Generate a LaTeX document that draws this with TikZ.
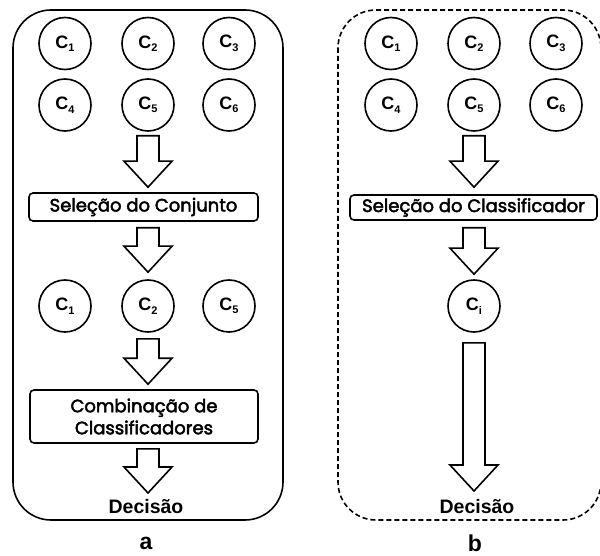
\documentclass[tikz,border=0pt]{standalone}
\usepackage{fontspec}
\setmainfont{Liberation Sans}
\newfontfamily\gothic{Poppins}
\usetikzlibrary{calc}
\newcommand\csub[2]{#1\raisebox{-3.5pt}{\fontsize{11}{11}\selectfont #2}}
\newcommand\medw[1]{\special{pdf:literal direct 2 Tr 0.45 w}#1\special{pdf:literal direct 0 Tr}}
\newcommand\barr[2]{\path[barrow] let \p1=(#1), \p2=(#2) in
  (\x1-11pt,\y1) -- (\x1+11pt,\y1) -- (\x1+11pt,\y2+26pt) -- (\x1+24pt,\y2+26pt)
  -- (\x1,\y2) -- (\x1-24pt,\y2+26pt) -- (\x1-11pt,\y2+26pt) -- cycle;}
\begin{document}
\begin{tikzpicture}[x=1pt,y=-1pt,
  cls/.style={circle,draw,line width=1.6pt,minimum size=52pt,inner sep=0pt,
    font=\fontsize{18}{18}\selectfont\bfseries},
  box/.style={draw,rounded corners=4pt,line width=1.6pt,inner sep=0pt,align=center,
    font=\gothic\fontsize{18}{22}\selectfont},
  barrow/.style={draw,line width=1.6pt,fill=white,line join=miter},
  frame/.style={line width=1.6pt,rounded corners=38pt},
  lbl/.style={inner sep=0pt,font=\fontsize{19.5}{20}\selectfont\bfseries},
  sublabel/.style={inner sep=0pt,anchor=base,font=\fontsize{23}{23}\selectfont\bfseries}]
\useasboundingbox (0,0) rectangle (600,556);
% frames
\draw[frame] (13,10) rectangle (283,520);
\draw[frame,dashed,dash pattern=on 5pt off 3pt] (338,10) rectangle (601,520);
% left column
\node[cls] (l1) at (65,43.5) {\csub{C}{1}};
\node[cls] (l2) at (148,43.5) {\csub{C}{2}};
\node[cls] (l3) at (229,43.5) {\csub{C}{3}};
\node[cls] (l4) at (65,105) {\csub{C}{4}};
\node[cls] (l5) at (148,105) {\csub{C}{5}};
\node[cls] (l6) at (229,105) {\csub{C}{6}};
\node[box,minimum width=229pt,minimum height=28pt] (lsel) at (143.5,207) {\medw{Seleção do Conjunto}};
\node[cls] (m1) at (65,306) {\csub{C}{1}};
\node[cls] (m2) at (148,306) {\csub{C}{2}};
\node[cls] (m3) at (229,306) {\csub{C}{5}};
\node[box,minimum width=228pt,minimum height=53pt] (lcomb) at (144,416.5) {\medw{Combinação de}\\\medw{Classificadores}};
\node[lbl] (ldec) at (146,507) {Decisão};
\node[sublabel] (la) at (146,549) {a};
\barr{$(l5.south)+(0,4)$}{$(lsel.north-|l5)+(0,-5)$}
\barr{$(lsel.south-|m2)+(0,6)$}{$(m2.north)+(0,-7)$}
\barr{$(m2.south)+(0,6)$}{$(lcomb.north-|m2)+(0,-5)$}
\barr{$(lcomb.south-|m2)+(0,5)$}{$(ldec.center-|m2)+(0,-14)$}
% right column
\node[cls] (r1) at (391,43.5) {\csub{C}{1}};
\node[cls] (r2) at (474,43.5) {\csub{C}{2}};
\node[cls] (r3) at (556,43.5) {\csub{C}{3}};
\node[cls] (r4) at (391,105) {\csub{C}{4}};
\node[cls] (r5) at (474,105) {\csub{C}{5}};
\node[cls] (r6) at (556,105) {\csub{C}{6}};
\node[box,minimum width=247pt,minimum height=25pt] (rsel) at (473.5,207.5) {\medw{Seleção do Classificador}};
\node[cls] (ci) at (474,306) {\csub{C}{i}};
\node[lbl] (rdec) at (477,507) {Decisão};
\node[sublabel] (rb) at (475,551) {b};
\barr{$(r5.south)+(0,4)$}{$(rsel.north-|r5)+(0,-7)$}
\barr{$(rsel.south-|ci)+(0,7)$}{$(ci.north)+(0,-5)$}
\barr{$(ci.south)+(0,10)$}{$(rdec.center-|ci)+(0,-16)$}
\end{tikzpicture}
\end{document}
